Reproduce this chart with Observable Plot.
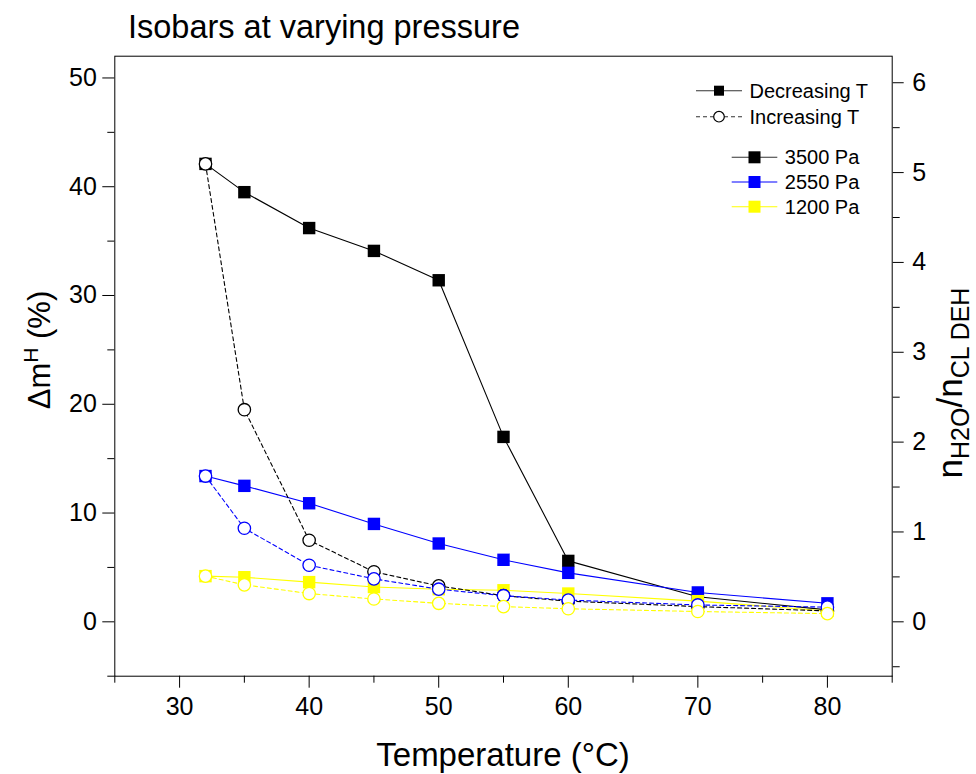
<!DOCTYPE html>
<html><head><meta charset="utf-8">
<script src="https://cdn.jsdelivr.net/npm/d3@7"></script>
<script src="https://cdn.jsdelivr.net/npm/@observablehq/plot@0.6"></script>
<style>
body{margin:0;background:#fff;font-family:"Liberation Sans",Arial,sans-serif;}
#title{height:46px;box-sizing:border-box;padding:11px 0 0 128px;font-size:32.5px;line-height:32px;color:#000;white-space:nowrap;}
#chart svg{display:block;}
</style></head><body>
<div id="title">Isobars at varying pressure</div>
<div id="chart"></div>
<script>
// ---- data (Δm^H in %) ----
const temps = [32, 35, 40, 45, 50, 55, 60, 70, 80];
const dec3500 = [42.1, 39.5, 36.2, 34.1, 31.4, 17.0, 5.6, 2.3, 1.1];
const inc3500 = [42.1, 19.5, 7.5, 4.6, 3.3, 2.4, 1.9, 1.4, 1.0];
const dec2550 = [13.4, 12.5, 10.9, 9.0, 7.2, 5.7, 4.5, 2.7, 1.7];
const inc2550 = [13.4, 8.6, 5.2, 3.95, 3.0, 2.4, 2.0, 1.55, 1.35];
const dec1200 = [4.2, 4.1, 3.65, 3.2, 3.0, 2.9, 2.6, 1.9, 1.0];
const inc1200 = [4.2, 3.4, 2.6, 2.1, 1.7, 1.4, 1.2, 0.95, 0.75];
const seriesNames = ["3500 Pa", "2550 Pa", "1200 Pa"];
const seriesColors = ["#000000", "#0000ff", "#ffff00"];
const xMajor = [30, 40, 50, 60, 70, 80];
const xMinor = [25, 35, 45, 55, 65, 75, 85];
const yMajor = [0, 10, 20, 30, 40, 50];
const yMinor = [-5, 5, 15, 25, 35, 45];
const rMajor = [0, 1, 2, 3, 4, 5, 6];
const rMinor = [-0.5, 0.5, 1.5, 2.5, 3.5, 4.5, 5.5];
const rFactor = 8.26; // % per unit of n_H2O/n_CL DEH

const decSets = [dec3500, dec2550, dec1200];
const incSets = [inc3500, inc2550, inc1200];
const rows = (vals) => temps.map((t, i) => ({t, v: vals[i]}));

const marks = [Plot.frame({stroke: "#000", strokeWidth: 1})];
decSets.forEach((vals, i) => {
  const d = rows(vals);
  marks.push(Plot.line(d, {x: "t", y: "v", stroke: seriesColors[i], strokeWidth: 1.1}));
  marks.push(Plot.dot(d, {x: "t", y: "v", symbol: "square", r: 7, fill: seriesColors[i], stroke: "none"}));
});
incSets.forEach((vals, i) => {
  const d = rows(vals);
  marks.push(Plot.line(d, {x: "t", y: "v", stroke: seriesColors[i], strokeWidth: 1.1, strokeDasharray: "4,3"}));
  marks.push(Plot.dot(d, {x: "t", y: "v", symbol: "circle", r: 6.2, fill: "#fff", stroke: seriesColors[i], strokeWidth: 1.3}));
});
marks.push(
  Plot.axisX({ticks: xMajor, tickSize: 12, tickPadding: 9, fontSize: 25, label: null}),
  Plot.axisX({ticks: xMinor, tickSize: 7, tickFormat: () => "", label: null}),
  Plot.axisY({anchor: "left", ticks: yMajor, tickSize: 12, tickPadding: 6, fontSize: 25, label: null}),
  Plot.axisY({anchor: "left", ticks: yMinor, tickSize: 7, tickFormat: () => "", label: null}),
  Plot.axisY({anchor: "right", ticks: rMajor.map(v => v * rFactor), tickFormat: d => String(Math.round(d / rFactor)), tickSize: 11, tickPadding: 9, fontSize: 25, label: null}),
  Plot.axisY({anchor: "right", ticks: rMinor.map(v => v * rFactor), tickSize: 7, tickFormat: () => "", label: null})
);

const chart = Plot.plot({
  width: 976, height: 728,
  marginTop: 9.7, marginBottom: 98.3, marginLeft: 114.3, marginRight: 84.3,
  x: {domain: [25, 85]},
  y: {domain: [-5, 52]},
  style: {fontFamily: "Liberation Sans, Arial, sans-serif", fontSize: "25px", color: "#000", background: "#fff", overflow: "visible"},
  marks
});
document.getElementById("chart").appendChild(chart);

// ---- titles & legend (layout only) ----
const svg = d3.select(chart);
const F = "Liberation Sans, Arial, sans-serif";
// x title
svg.append("text").attr("x", 503).attr("y", 720).attr("text-anchor", "middle")
  .attr("font-family", F).attr("font-size", 33).attr("fill", "#000").text("Temperature (°C)");
// left y title
const lt = svg.append("text").attr("transform", "translate(50,304) rotate(-90)").attr("text-anchor", "middle")
  .attr("font-family", F).attr("font-size", 31).attr("fill", "#000");
lt.append("tspan").text("Δm");
lt.append("tspan").attr("font-size", 21).attr("dy", -12).text("H");
lt.append("tspan").attr("dy", 12).text(" (%)");
// right y title
const rt = svg.append("text").attr("transform", "translate(962,337) rotate(-90)").attr("text-anchor", "middle")
  .attr("font-family", F).attr("font-size", 35).attr("fill", "#000");
rt.append("tspan").text("n");
rt.append("tspan").attr("font-size", 25).attr("dy", 7).text("H2O");
rt.append("tspan").attr("dy", -7).text("/n");
rt.append("tspan").attr("font-size", 25).attr("dy", 7).text("CL DEH");

// legend
const lg = svg.append("g").attr("font-family", F).attr("fill", "#000").attr("text-anchor", "start");
function entry(x0, x1, cy, color, kind, label, sq) {
  const mid = (x0 + x1) / 2;
  lg.append("line").attr("x1", x0).attr("x2", x1).attr("y1", cy).attr("y2", cy)
    .attr("stroke", color === "#000000" ? "#333" : color).attr("stroke-width", 1.1)
    .attr("stroke-dasharray", kind === "circle" ? "4,3" : null);
  if (kind === "circle") {
    lg.append("circle").attr("cx", mid).attr("cy", cy).attr("r", 5.3).attr("fill", "#fff").attr("stroke", color).attr("stroke-width", 1.2);
  } else {
    lg.append("rect").attr("x", mid - sq / 2).attr("y", cy - sq / 2).attr("width", sq).attr("height", sq).attr("fill", color);
  }
  lg.append("text").attr("x", x1 + 7.5).attr("y", cy + 7).attr("font-size", 20).attr("text-anchor", "start").text(label);
}
entry(696, 742, 44.7, "#000000", "square", "Decreasing T", 10);
entry(696, 742, 70.7, "#000000", "circle", "Increasing T", 10);
seriesNames.forEach((n, i) => entry(731.7, 777.3, 111.3 + i * 24.7, seriesColors[i], "square", n, 12));
</script>
</body></html>
